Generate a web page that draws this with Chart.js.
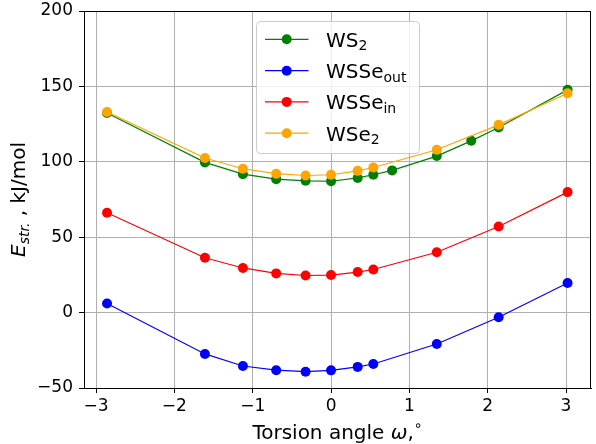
<!DOCTYPE html>
<html>
<head>
<meta charset="utf-8">
<script src="https://cdn.jsdelivr.net/npm/chart.js@4"></script>
<style>
html,body{margin:0;padding:0;background:#fff;}
canvas{display:block;}
</style>
</head>
<body>
<canvas id="c" width="596" height="444"></canvas>
<script>
// ---- data ----
const xWS2 = [-2.86, -1.61, -1.125, -0.70, -0.325, 0, 0.34, 0.54, 0.78, 1.35, 1.79, 2.14, 3.02];
const yWS2 = [132.4, 99.6, 91.8, 88.5, 87.4, 87.1, 89.3, 91.4, 94.3, 103.8, 113.9, 122.7, 147.7];
const xOther = [-2.86, -1.61, -1.125, -0.70, -0.325, 0, 0.34, 0.54, 1.35, 2.14, 3.02];
const yWSSeOut = [6.0, -27.4, -35.4, -38.2, -39.2, -38.3, -36.0, -34.1, -20.8, -3.1, 19.6];
const yWSSeIn = [66.2, 36.4, 29.6, 26.0, 24.6, 24.9, 26.9, 28.6, 40.0, 57.1, 79.9];
const yWSe2 = [133.0, 102.5, 95.4, 92.1, 90.9, 91.4, 94.0, 96.2, 108.0, 124.5, 145.5];
const xTicks = [-3, -2, -1, 0, 1, 2, 3];
const yTicks = [-50, 0, 50, 100, 150, 200];
const seriesNames = [
  [{t: 'WS'}, {t: '2', sub: true}],
  [{t: 'WSSe'}, {t: 'out', sub: true}],
  [{t: 'WSSe'}, {t: 'in', sub: true}],
  [{t: 'WSe'}, {t: '2', sub: true}]
];
const seriesColors = ['#008000', '#0000ff', '#ff0000', '#ffa500'];

const FONT = '"DejaVu Sans", sans-serif';
const pts = (xs, ys) => xs.map((x, i) => ({x: x, y: ys[i]}));
const fmt = v => (v < 0 ? '\u2212' + Math.abs(v) : String(v));

function mkSet(i, data) {
  return {
    data: data,
    borderColor: seriesColors[i],
    backgroundColor: seriesColors[i],
    pointBackgroundColor: seriesColors[i],
    pointBorderColor: seriesColors[i],
    borderWidth: 1.2,
    pointRadius: 5,
    pointBorderWidth: 0,
    tension: 0,
    fill: false,
    order: 4 - i
  };
}

function drawRich(ctx, parts, x, y, align) {
  const items = parts.map(p => {
    const f = (p.italic ? 'italic ' : '') + p.size + 'px ' + FONT;
    ctx.font = f;
    return {t: p.t, f: f, w: ctx.measureText(p.t).width, dy: p.dy || 0};
  });
  const total = items.reduce((a, b) => a + b.w, 0);
  let cx = align === 'center' ? x - total / 2 : x;
  ctx.textAlign = 'left';
  ctx.textBaseline = 'alphabetic';
  items.forEach(it => {
    ctx.font = it.f;
    ctx.fillText(it.t, cx, y + it.dy);
    cx += it.w;
  });
}

const decor = {
  id: 'decor',
  afterDatasetsDraw(chart) {
    const ctx = chart.ctx, a = chart.chartArea;
    ctx.save();
    ctx.strokeStyle = '#000';
    ctx.lineWidth = 1;
    ctx.strokeRect(Math.round(a.left) + 0.5, Math.round(a.top) + 0.5,
      Math.round(a.right - a.left) - 1, Math.round(a.bottom - a.top));
    ctx.restore();
  },
  afterDraw(chart) {
    const ctx = chart.ctx, a = chart.chartArea;
    ctx.save();
    ctx.fillStyle = '#000';
    drawRich(ctx, [
      {t: 'Torsion angle ', size: 20},
      {t: '\u03c9', size: 20, italic: true},
      {t: ',', size: 20},
      {t: '\u2218', size: 14, dy: -9}
    ], (a.left + a.right) / 2, 439, 'center');
    ctx.save();
    ctx.translate(25, (a.top + a.bottom) / 2);
    ctx.rotate(-Math.PI / 2);
    drawRich(ctx, [
      {t: 'E', size: 20, italic: true},
      {t: 'str.', size: 14, italic: true, dy: 4},
      {t: ' , kJ/mol', size: 20}
    ], 0, 0, 'center');
    ctx.restore();
    const bx = 256.5, by = 21.5, bw = 163, bh = 132, r = 4;
    ctx.beginPath();
    ctx.moveTo(bx + r, by);
    ctx.arcTo(bx + bw, by, bx + bw, by + bh, r);
    ctx.arcTo(bx + bw, by + bh, bx, by + bh, r);
    ctx.arcTo(bx, by + bh, bx, by, r);
    ctx.arcTo(bx, by, bx + bw, by, r);
    ctx.closePath();
    ctx.fillStyle = 'rgba(255,255,255,0.8)';
    ctx.fill();
    ctx.strokeStyle = '#cccccc';
    ctx.lineWidth = 1;
    ctx.stroke();
    const rows = [39.3, 70.7, 101.9, 133.2];
    seriesNames.forEach((parts, i) => {
      const ry = rows[i];
      ctx.strokeStyle = seriesColors[i];
      ctx.lineWidth = 1.2;
      ctx.beginPath();
      ctx.moveTo(265, ry);
      ctx.lineTo(308.5, ry);
      ctx.stroke();
      ctx.fillStyle = seriesColors[i];
      ctx.beginPath();
      ctx.arc(286.7, ry, 5, 0, Math.PI * 2);
      ctx.fill();
      ctx.fillStyle = '#000';
      drawRich(ctx, parts.map(p => p.sub ? {t: p.t, size: 14, dy: 3.5} : {t: p.t, size: 20}), 326, ry + 7.4, 'left');
    });
    ctx.restore();
  }
};

const chart = new Chart(document.getElementById('c'), {
  type: 'line',
  data: {
    datasets: [
      mkSet(0, pts(xWS2, yWS2)),
      mkSet(1, pts(xOther, yWSSeOut)),
      mkSet(2, pts(xOther, yWSSeIn)),
      mkSet(3, pts(xOther, yWSe2))
    ]
  },
  options: {
    responsive: false,
    animation: false,
    devicePixelRatio: 1,
    layout: {padding: {top: 0, right: 4, left: 0, bottom: 0}},
    plugins: {legend: {display: false}, tooltip: {enabled: false}},
    scales: {
      x: {
        type: 'linear',
        min: -3.154,
        max: 3.319,
        afterBuildTicks: s => { s.ticks = xTicks.map(v => ({value: v})); },
        afterFit: s => { s.height = 56; },
        ticks: {color: '#000', font: {family: FONT, size: 17}, padding: 3, callback: v => fmt(v), maxRotation: 0},
        grid: {color: '#b0b0b0', lineWidth: 1, tickColor: '#000', tickLength: 5, drawTicks: true},
        border: {color: '#000', width: 1}
      },
      y: {
        type: 'linear',
        min: -50,
        max: 200,
        afterBuildTicks: s => { s.ticks = yTicks.map(v => ({value: v})); },
        afterFit: s => { s.width = 84; s.paddingTop = 11; s.paddingBottom = 0; },
        ticks: {color: '#000', font: {family: FONT, size: 17}, padding: 6, callback: v => fmt(v)},
        grid: {color: '#b0b0b0', lineWidth: 1, tickColor: '#000', tickLength: 5, drawTicks: true},
        border: {color: '#000', width: 1}
      }
    }
  },
  plugins: [decor]
});
</script>
</body>
</html>
